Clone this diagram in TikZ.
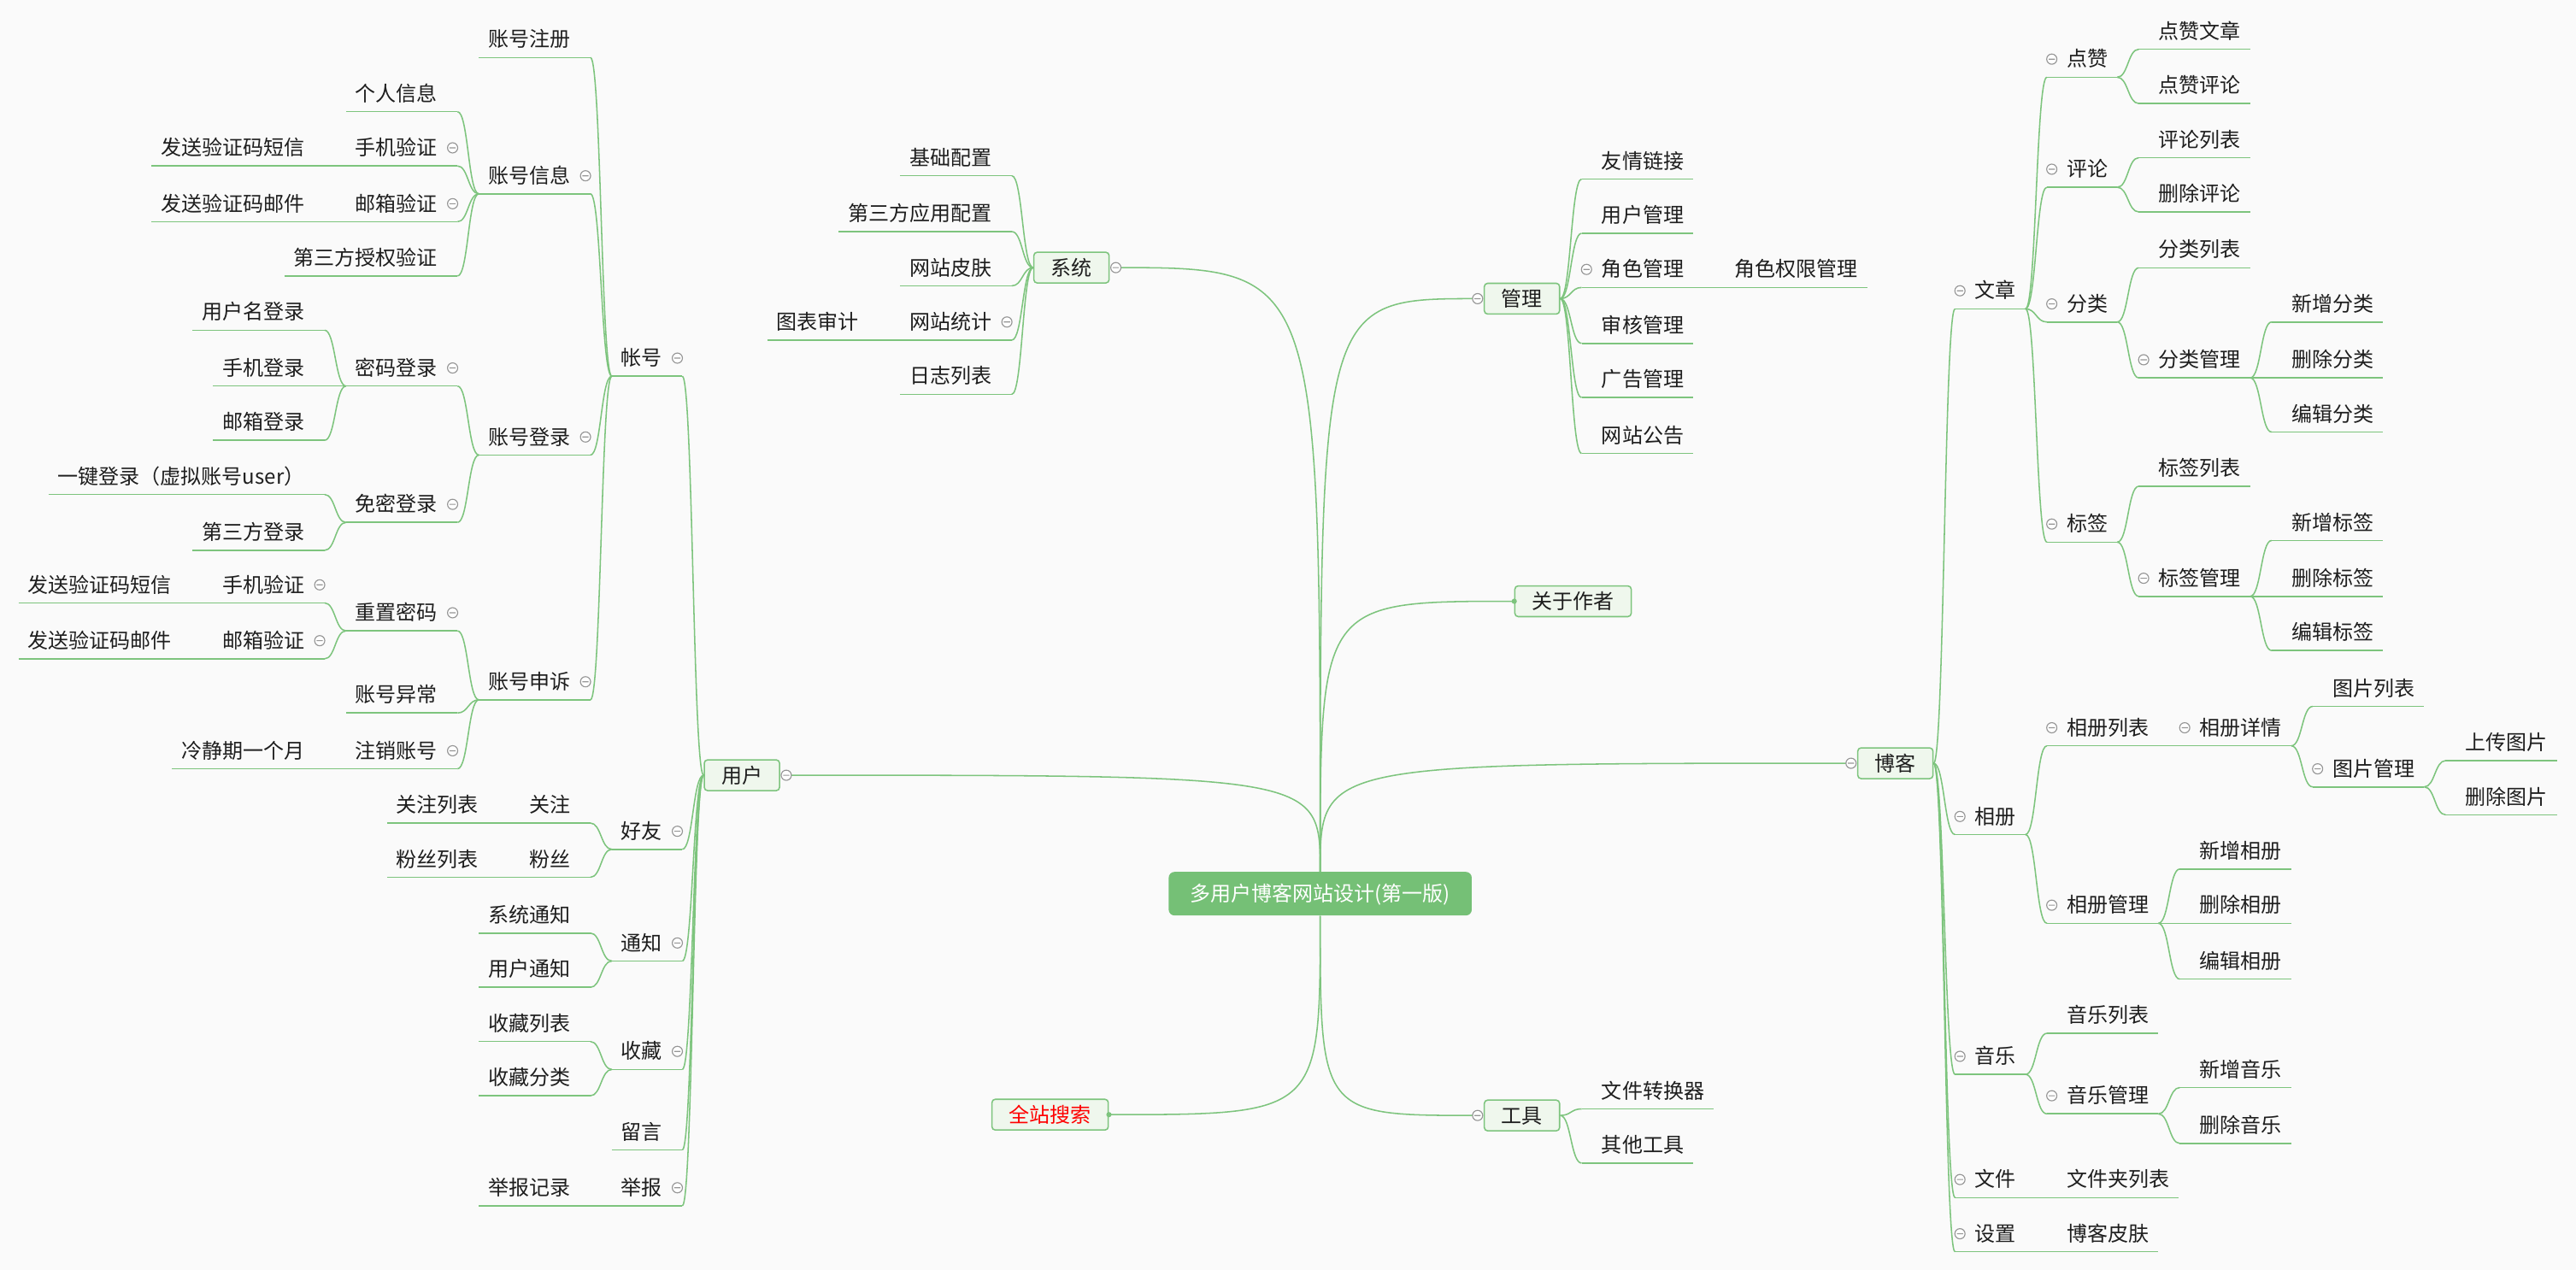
\documentclass[tikz,border=0pt]{standalone}
\usepackage{fontspec}
\setmainfont{Noto Sans CJK SC}
\usetikzlibrary{calc}
\definecolor{linkgreen}{RGB}{125,196,125}
\definecolor{boxfill}{RGB}{239,247,237}
\definecolor{rootgreen}{RGB}{117,192,118}
\definecolor{inkgray}{RGB}{30,30,30}
\definecolor{foldgray}{RGB}{150,150,150}
\definecolor{paper}{RGB}{250,250,250}
\definecolor{searchred}{RGB}{255,0,0}

\tikzset{
  link/.style={draw=linkgreen, line width=0.8pt},
  topic/.style={inner xsep=5.5pt, inner ysep=4.75pt, text height=11pt, text depth=1.5pt,
                font=\fontsize{12.5}{15}\selectfont, text=inkgray},
  ltopic/.style={topic, anchor=south east, execute at end node={\kern6.5pt}},
  rtopic/.style={topic, anchor=south west, execute at begin node={\kern6.5pt}},
  mainbox/.style={topic, draw=linkgreen, fill=boxfill, line width=0.8pt, rounded corners=2pt,
                  inner xsep=10.4pt, inner ysep=3.1pt},
  rootbox/.style={topic, fill=rootgreen, text=white, rounded corners=3.5pt,
                  inner xsep=13pt, inner ysep=7pt},
  fold/.style={draw=foldgray, fill=white, line width=0.6pt},
}

% child on the left of its parent: name, parent, underline y, text
\newcommand{\leftitem}[4]{%
  \node[ltopic] (#1) at ($(#2j |- 0,#3)+(-13,0)$) {#4};
  \draw[link] (#1.south west) -- (#1.south east);
  \draw[link] (#2j) .. controls +(-6.5,0) and +(6.5,0) .. (#1.south east);
  \coordinate (#1j) at (#1.south west);
}
% child on the right of its parent
\newcommand{\rightitem}[4]{%
  \node[rtopic] (#1) at ($(#2j |- 0,#3)+(13,0)$) {#4};
  \draw[link] (#1.south west) -- (#1.south east);
  \draw[link] (#2j) .. controls +(6.5,0) and +(-6.5,0) .. (#1.south west);
  \coordinate (#1j) at (#1.south east);
}
\newcommand{\foldat}[1]{\draw[fold] (#1) circle (3.1) ++(-1.9,0) -- ++(3.8,0);}
\newcommand{\lfold}[1]{\foldat{[shift={(-3,-11)}]#1.south east}}
\newcommand{\rfold}[1]{\foldat{[shift={(3,-11)}]#1.south west}}

\begin{document}
\begin{tikzpicture}[x=1pt, y=-1pt]
\useasboundingbox (0,0) rectangle (1568,773);
\fill[paper] (0,0) rectangle (1568,773);

% centre and main branches
\node[rootbox] (root) at (803.6,544) {多用户博客网站设计(第一版)};
\node[mainbox] (yh) at (451.6,471.9) {用户};
\node[mainbox] (xt) at (652.2,162.9) {系统};
\node[mainbox] (gl) at (926.4,181.8) {管理};
\node[mainbox] (gy) at (957.5,366) {关于作者};
\node[mainbox] (bk) at (1153.7,464.6) {博客};
\node[mainbox, text=searchred] (qzss) at (639.2,678.5) {全站搜索};
\node[mainbox] (gj) at (926.4,679) {工具};

\coordinate (yhj) at (yh.west);
\coordinate (xtj) at (xt.west);
\coordinate (glj) at (gl.east);
\coordinate (bkj) at (bk.east);
\coordinate (gjj) at (gj.east);
\coordinate (yhf) at ([xshift=3.7pt]yh.east);
\coordinate (xtf) at ([xshift=3.7pt]xt.east);
\coordinate (glf) at ([xshift=-3.7pt]gl.west);
\coordinate (bkf) at ([xshift=-3.7pt]bk.west);
\coordinate (gjf) at ([xshift=-3.7pt]gj.west);
\coordinate (gyd) at (gy.west);
\coordinate (qzd) at (qzss.east);

\draw[link] (root.north) .. controls (root.north |- yhf) .. (yhf);
\draw[link] (root.north) .. controls (root.north |- xtf) .. (xtf);
\draw[link] (root.north) .. controls (root.north |- glf) .. (glf);
\draw[link] (root.north) .. controls (root.north |- gyd) .. (gyd);
\draw[link] (root.north) .. controls (root.north |- bkf) .. (bkf);
\draw[link] (root.south) .. controls (root.south |- qzd) .. (qzd);
\draw[link] (root.south) .. controls (root.south |- gjf) .. (gjf);
\fill[linkgreen] (gyd) circle (1.6);
\fill[linkgreen] (qzd) circle (1.6);

% 用户
\leftitem{zh}{yh}{229}{帐号}
\leftitem{hy}{yh}{517}{好友}
\leftitem{tz}{yh}{585}{通知}
\leftitem{sc}{yh}{651}{收藏}
\leftitem{ly}{yh}{700}{留言}
\leftitem{jb}{yh}{734}{举报}

\leftitem{zhzc}{zh}{35}{账号注册}
\leftitem{zhxx}{zh}{118}{账号信息}
\leftitem{zhdl}{zh}{277}{账号登录}
\leftitem{zhss}{zh}{426}{账号申诉}

\leftitem{grxx}{zhxx}{68}{个人信息}
\leftitem{sjyz}{zhxx}{101}{手机验证}
\leftitem{yxyz}{zhxx}{135}{邮箱验证}
\leftitem{sqyz}{zhxx}{168}{第三方授权验证}
\leftitem{dxa}{sjyz}{101}{发送验证码短信}
\leftitem{yja}{yxyz}{135}{发送验证码邮件}

\leftitem{mmdl}{zhdl}{235}{密码登录}
\leftitem{mdl}{zhdl}{318}{免密登录}
\leftitem{yhmdl}{mmdl}{201}{用户名登录}
\leftitem{sjdl}{mmdl}{235}{手机登录}
\leftitem{yxdl}{mmdl}{268}{邮箱登录}
\leftitem{yjdl}{mdl}{301}{一键登录（虚拟账号user）}
\leftitem{sfdl}{mdl}{335}{第三方登录}

\leftitem{czmm}{zhss}{384}{重置密码}
\leftitem{zhyc}{zhss}{434}{账号异常}
\leftitem{zxzh}{zhss}{468}{注销账号}
\leftitem{sjyzb}{czmm}{367}{手机验证}
\leftitem{yxyzb}{czmm}{401}{邮箱验证}
\leftitem{dxb}{sjyzb}{367}{发送验证码短信}
\leftitem{yjb}{yxyzb}{401}{发送验证码邮件}
\leftitem{ljq}{zxzh}{468}{冷静期一个月}

\leftitem{gz}{hy}{501}{关注}
\leftitem{fs}{hy}{534}{粉丝}
\leftitem{gzlb}{gz}{501}{关注列表}
\leftitem{fslb}{fs}{534}{粉丝列表}
\leftitem{xttz}{tz}{568}{系统通知}
\leftitem{yhtz}{tz}{601}{用户通知}
\leftitem{sclb}{sc}{634}{收藏列表}
\leftitem{scfl}{sc}{667}{收藏分类}
\leftitem{jbjl}{jb}{734}{举报记录}

% 系统
\leftitem{jcpz}{xt}{107}{基础配置}
\leftitem{dsfpz}{xt}{141}{第三方应用配置}
\leftitem{wzpf}{xt}{174}{网站皮肤}
\leftitem{wztj}{xt}{207}{网站统计}
\leftitem{rzlb}{xt}{240}{日志列表}
\leftitem{tbsj}{wztj}{207}{图表审计}

% 管理, 工具
\rightitem{yqlj}{gl}{109}{友情链接}
\rightitem{yhgl}{gl}{142}{用户管理}
\rightitem{jsgl}{gl}{175}{角色管理}
\rightitem{shgl}{gl}{209}{审核管理}
\rightitem{gggl}{gl}{242}{广告管理}
\rightitem{wzgg}{gl}{276}{网站公告}
\rightitem{jsqx}{jsgl}{175}{角色权限管理}
\rightitem{wjzhq}{gj}{675}{文件转换器}
\rightitem{qtgj}{gj}{708}{其他工具}

% 博客
\rightitem{wz}{bk}{188}{文章}
\rightitem{xc}{bk}{508}{相册}
\rightitem{yy}{bk}{654}{音乐}
\rightitem{wj}{bk}{729}{文件}
\rightitem{sz}{bk}{762}{设置}
\rightitem{wjlb}{wj}{729}{文件夹列表}
\rightitem{bkpf}{sz}{762}{博客皮肤}

\rightitem{dz}{wz}{47}{点赞}
\rightitem{pl}{wz}{114}{评论}
\rightitem{fl}{wz}{196}{分类}
\rightitem{bq}{wz}{330}{标签}
\rightitem{dzwz}{dz}{30}{点赞文章}
\rightitem{dzpl}{dz}{63}{点赞评论}
\rightitem{pllb}{pl}{96}{评论列表}
\rightitem{plsc}{pl}{129}{删除评论}
\rightitem{fllb}{fl}{163}{分类列表}
\rightitem{flgl}{fl}{230}{分类管理}
\rightitem{flxz}{flgl}{196}{新增分类}
\rightitem{flsc}{flgl}{230}{删除分类}
\rightitem{flbj}{flgl}{263}{编辑分类}
\rightitem{bqlb}{bq}{296}{标签列表}
\rightitem{bqgl}{bq}{363}{标签管理}
\rightitem{bqxz}{bqgl}{329}{新增标签}
\rightitem{bqsc}{bqgl}{363}{删除标签}
\rightitem{bqbj}{bqgl}{396}{编辑标签}

\rightitem{xclb}{xc}{454}{相册列表}
\rightitem{xcgl}{xc}{562}{相册管理}
\rightitem{xcxq}{xclb}{454}{相册详情}
\rightitem{tplb}{xcxq}{430}{图片列表}
\rightitem{tpgl}{xcxq}{479}{图片管理}
\rightitem{tpup}{tpgl}{463}{上传图片}
\rightitem{tpdel}{tpgl}{496}{删除图片}
\rightitem{xcxz}{xcgl}{529}{新增相册}
\rightitem{xcsc}{xcgl}{562}{删除相册}
\rightitem{xcbj}{xcgl}{596}{编辑相册}
\rightitem{yylb}{yy}{629}{音乐列表}
\rightitem{yygl}{yy}{678}{音乐管理}
\rightitem{yyxz}{yygl}{662}{新增音乐}
\rightitem{yysc}{yygl}{696}{删除音乐}

% collapse marks
\foldat{yhf} \foldat{xtf} \foldat{glf} \foldat{bkf} \foldat{gjf}
\lfold{zh} \lfold{hy} \lfold{tz} \lfold{sc} \lfold{jb}
\lfold{zhxx} \lfold{zhdl} \lfold{zhss} \lfold{sjyz} \lfold{yxyz}
\lfold{mmdl} \lfold{mdl} \lfold{czmm} \lfold{zxzh} \lfold{sjyzb} \lfold{yxyzb}
\lfold{wztj}
\rfold{jsgl} \rfold{wz} \rfold{xc} \rfold{yy} \rfold{wj} \rfold{sz}
\rfold{dz} \rfold{pl} \rfold{fl} \rfold{bq} \rfold{flgl} \rfold{bqgl}
\rfold{xclb} \rfold{xcxq} \rfold{tpgl} \rfold{xcgl} \rfold{yygl}
\end{tikzpicture}
\end{document}
